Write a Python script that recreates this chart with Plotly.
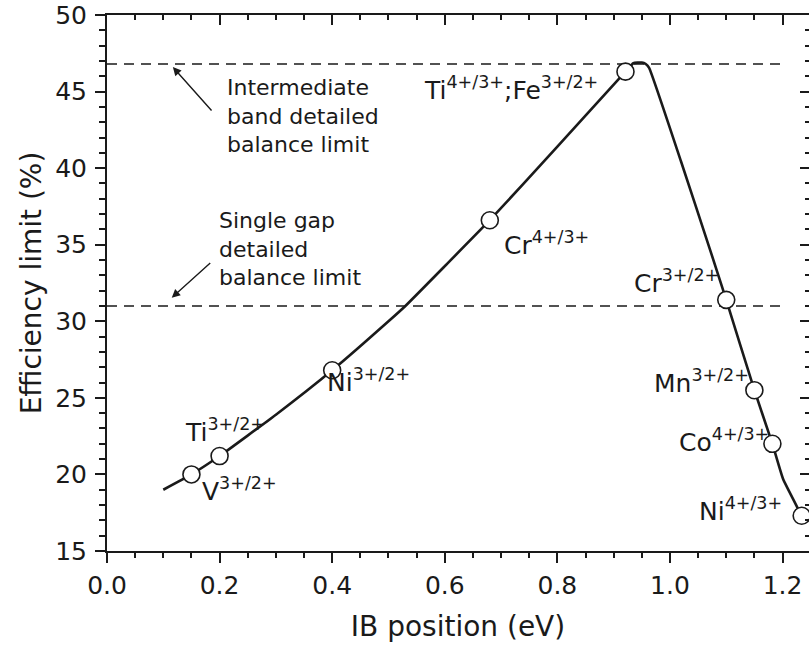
import plotly.graph_objects as go

# ---- data ----
curve_x = [0.10, 0.15, 0.20, 0.30, 0.40, 0.50, 0.53, 0.60, 0.68, 0.80, 0.921,
           0.935, 0.950, 0.957, 0.963, 1.020, 1.071, 1.100, 1.150, 1.182,
           1.201, 1.227, 1.234]
curve_y = [19.0, 20.0, 21.2, 23.9, 26.8, 30.0, 31.0, 33.6, 36.6, 41.4, 46.3,
           46.85, 46.9, 46.8, 46.55, 40.4, 34.7, 31.4, 25.5, 22.0,
           19.7, 17.8, 17.3]

ion_names = ["V<sup>3+/2+</sup>", "Ti<sup>3+/2+</sup>", "Ni<sup>3+/2+</sup>",
             "Cr<sup>4+/3+</sup>", "Ti<sup>4+/3+</sup>;Fe<sup>3+/2+</sup>",
             "Cr<sup>3+/2+</sup>", "Mn<sup>3+/2+</sup>", "Co<sup>4+/3+</sup>",
             "Ni<sup>4+/3+</sup>"]
ion_x = [0.15, 0.20, 0.40, 0.68, 0.921, 1.10, 1.15, 1.182, 1.234]
ion_y = [20.0, 21.2, 26.8, 36.6, 46.3, 31.4, 25.5, 22.0, 17.3]

limit_x = [0.0, 1.2]
ib_limit = 46.8
sg_limit = 31.0

x_ticks = [0.0, 0.2, 0.4, 0.6, 0.8, 1.0, 1.2]
x_ticklabels = ["0.0", "0.2", "0.4", "0.6", "0.8", "1.0", "1.2"]
y_ticks = [15, 20, 25, 30, 35, 40, 45, 50]

# ---- styling ----
FONT = "DejaVu Sans"
INK = "#1a1a1a"
XR = [0, 1.247]
YR = [15, 50]

fig = go.Figure()

for lim in (ib_limit, sg_limit):
    fig.add_trace(go.Scatter(x=limit_x, y=[lim, lim], mode="lines",
                             line=dict(color=INK, width=1.6, dash="10px,7px"),
                             hoverinfo="skip", showlegend=False))

fig.add_trace(go.Scatter(x=curve_x, y=curve_y, mode="lines",
                         line=dict(color=INK, width=2.6, shape="spline",
                                   smoothing=0.4),
                         showlegend=False, cliponaxis=True))

fig.add_trace(go.Scatter(x=ion_x, y=ion_y, mode="markers",
                         marker=dict(size=17, color="white",
                                     line=dict(color=INK, width=1.6)),
                         showlegend=False, cliponaxis=True))

# mirrored axes with inward ticks
fig.add_trace(go.Scatter(x=[None], y=[None], xaxis="x2", yaxis="y2",
                         showlegend=False, hoverinfo="skip"))

# ion labels: (text index, x, y, xanchor)
label_pos = [
    (0, 0.165, 17.78, "left"),
    (1, 0.135, 21.69, "left"),
    (2, 0.387, 24.95, "left"),
    (3, 0.702, 33.89, "left"),
    (4, 0.876, 44.0, "right"),
    (5, 0.9325, 31.41, "left"),
    (6, 0.968, 24.89, "left"),
    (7, 1.0124, 21.04, "left"),
    (8, 1.048, 16.47, "left"),
]
for i, lx, ly, xa in label_pos:
    fig.add_annotation(x=lx, y=ly, text=ion_names[i], showarrow=False,
                       xanchor=xa, yanchor="bottom",
                       font=dict(family=FONT, size=25, color=INK))

# limit descriptions
fig.add_annotation(x=0.21, y=43.4, text="Intermediate<br>band detailed<br>balance limit",
                   showarrow=False, xanchor="left", yanchor="middle", align="left",
                   font=dict(family=FONT, size=22, color=INK))
fig.add_annotation(x=0.195, y=34.7, text="Single gap<br>detailed<br>balance limit",
                   showarrow=False, xanchor="left", yanchor="middle", align="left",
                   font=dict(family=FONT, size=22, color=INK))
# arrows
fig.add_annotation(x=0.117, y=46.6, ax=40, ay=45, text="", showarrow=True,
                   arrowhead=2, arrowsize=1.2, arrowwidth=1.4, arrowcolor=INK)
fig.add_annotation(x=0.115, y=31.54, ax=40, ay=-36, text="", showarrow=True,
                   arrowhead=2, arrowsize=1.2, arrowwidth=1.4, arrowcolor=INK)

axis_common = dict(showgrid=False, zeroline=False, showline=True,
                   linecolor=INK, linewidth=2, tickcolor=INK, tickwidth=2,
                   automargin=False)

fig.update_layout(
    width=809, height=649,
    margin=dict(l=107, r=0, t=15, b=98, autoexpand=False),
    paper_bgcolor="white", plot_bgcolor="white",
    font=dict(family=FONT, color=INK),
    xaxis=dict(range=XR, tickvals=x_ticks, ticktext=x_ticklabels,
               ticks="outside", ticklen=10, ticklabelstandoff=1,
               ticklabeloverflow="allow",
               tickfont=dict(family=FONT, size=25, color=INK),
               minor=dict(dtick=0.05, ticks="outside", ticklen=5,
                          tickwidth=2, tickcolor=INK),
               title=dict(text="IB position (eV)", standoff=17,
                          font=dict(family=FONT, size=28, color=INK)),
               **axis_common),
    yaxis=dict(range=YR, tickvals=y_ticks,
               ticks="outside", ticklen=10, ticklabelstandoff=3,
               ticklabeloverflow="allow",
               tickfont=dict(family=FONT, size=25, color=INK),
               minor=dict(dtick=1, ticks="outside", ticklen=6,
                          tickwidth=2, tickcolor=INK),
               title=dict(text="Efficiency limit (%)", standoff=5,
                          font=dict(family=FONT, size=28, color=INK)),
               **axis_common),
    xaxis2=dict(range=XR, overlaying="x", side="top", anchor="y2",
                tickvals=x_ticks, showticklabels=False,
                ticks="inside", ticklen=10,
                minor=dict(dtick=0.05, ticks="inside", ticklen=5,
                           tickwidth=2, tickcolor=INK),
                **axis_common),
    yaxis2=dict(range=YR, overlaying="y", side="right", anchor="x2",
                tickvals=y_ticks, showticklabels=False,
                ticks="inside", ticklen=9,
                minor=dict(dtick=1, ticks="inside", ticklen=4,
                           tickwidth=2, tickcolor=INK),
                **axis_common),
)

fig.write_html("out.html",
               config={"displayModeBar": False},
               post_script="document.body.style.margin='0';"
                           "document.body.style.overflow='hidden';")
